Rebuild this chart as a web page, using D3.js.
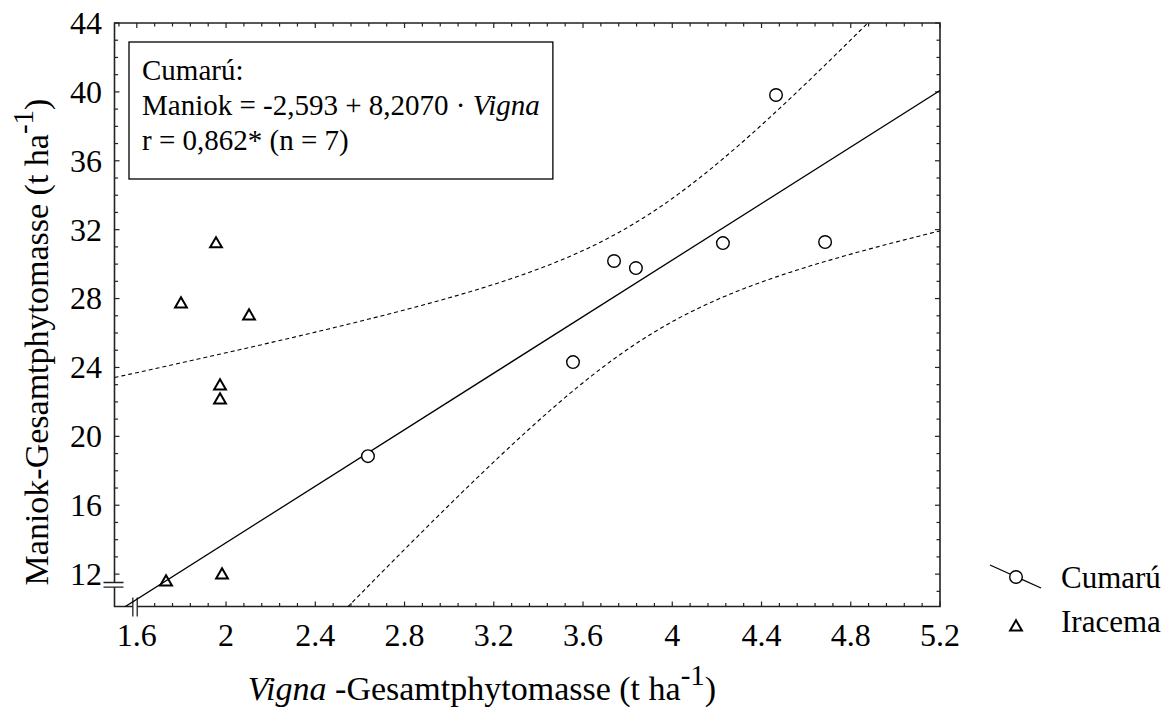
<!DOCTYPE html>
<html>
<head>
<meta charset="utf-8">
<script src="https://cdn.jsdelivr.net/npm/d3@7"></script>
<style>
  body { margin: 0; background: #fff; }
  svg { display: block; }
</style>
</head>
<body>
<svg id="chart" width="1171" height="717"></svg>
<script>
// Daten
const cumaruX  = [2.636, 3.555, 3.739, 3.837, 4.227, 4.465, 4.685];
const cumaruY  = [18.85, 24.31, 30.18, 29.77, 31.22, 39.82, 31.28];
const iracemaX = [1.955, 1.798, 2.103, 1.973, 1.973, 1.731, 1.982];
const iracemaY = [31.17, 27.68, 26.98, 22.92, 22.11, 11.54, 11.94];
const xTicks = [1.6, 2, 2.4, 2.8, 3.2, 3.6, 4, 4.4, 4.8, 5.2];
const yTicks = [12, 16, 20, 24, 28, 32, 36, 40, 44];
const fit = { intercept: -2.593, slope: 8.2070 };
const tCrit = 2.571; // t(0.975; df = 5)
const annotation = ['Cumarú:', 'Maniok = -2,593 + 8,2070 · ', 'r = 0,862* (n = 7)'];

const FONT = '"Liberation Serif", "Times New Roman", Times, serif';
const svg = d3.select('#chart').attr('font-family', FONT);
const W = 1171, H = 717;
const m = { left: 114.5, right: 940, top: 23, bottom: 606.5 };

const x = d3.scaleLinear().domain([1.5, 5.2]).range([m.left, m.right]);
const y = d3.scaleLinear().domain([10.12, 44]).range([m.bottom, m.top]);

svg.append('rect').attr('width', W).attr('height', H).attr('fill', '#fff');

svg.append('defs').append('clipPath').attr('id', 'plot-clip')
  .append('rect')
  .attr('x', m.left).attr('y', m.top)
  .attr('width', m.right - m.left).attr('height', m.bottom - m.top);

// Rahmen + Achsen mit Bruchstellen
const axisColor = '#222';
const xBrk = x(1.592), yBrk = y(11.38);
const frame = svg.append('g').attr('stroke', axisColor).attr('stroke-width', 1.6).attr('fill', 'none');
frame.append('path').attr('d', `M${m.left},${yBrk - 2.3} V${m.top} H${m.right} V${m.bottom} H${xBrk + 2.2}`);
frame.append('path').attr('d', `M${xBrk - 2.2},${m.bottom} H${m.left} V${yBrk + 2.3}`);
// Bruchzeichen
frame.append('path').attr('stroke-width', 1.3)
  .attr('d', `M${m.left - 11},${yBrk - 2.3} h20 M${m.left - 11},${yBrk + 2.3} h20` +
             `M${xBrk - 2.2},${m.bottom - 9} v19 M${xBrk + 2.2},${m.bottom - 9} v19`);

// Ticks (nach innen, alle vier Seiten)
const xMinor = d3.range(1.52, 5.2001, 0.08).map(v => +v.toFixed(2));
const yMinor = d3.range(11, 44.001, 1);
const ticks = svg.append('g').attr('stroke', axisColor).attr('stroke-width', 1.2);
const isMajX = v => xTicks.some(t => Math.abs(t - v) < 1e-6);
const isMajY = v => yTicks.some(t => Math.abs(t - v) < 1e-6);
xMinor.filter(v => x(v) > xBrk + 3).forEach(v => {
  const len = isMajX(v) ? 5 : 3.5;
  ticks.append('line').attr('x1', x(v)).attr('x2', x(v)).attr('y1', m.bottom).attr('y2', m.bottom - len);
});
xMinor.forEach(v => {
  const len = isMajX(v) ? 5 : 3.5;
  ticks.append('line').attr('x1', x(v)).attr('x2', x(v)).attr('y1', m.top).attr('y2', m.top + len);
});
yMinor.forEach(v => {
  const len = isMajY(v) ? 5 : 3.5;
  if (y(v) < yBrk - 4) ticks.append('line').attr('x1', m.left).attr('x2', m.left + len).attr('y1', y(v)).attr('y2', y(v));
  ticks.append('line').attr('x1', m.right).attr('x2', m.right - len).attr('y1', y(v)).attr('y2', y(v));
});

// Tick-Beschriftung
const labelSize = 32;
svg.append('g').selectAll('text').data(xTicks).join('text')
  .attr('x', d => x(d)).attr('y', 646)
  .attr('text-anchor', 'middle').attr('font-size', labelSize).attr('fill', '#000')
  .text(d => String(d));
svg.append('g').selectAll('text').data(yTicks).join('text')
  .attr('x', 102).attr('y', d => y(d)).attr('dy', '0.34em')
  .attr('text-anchor', 'end').attr('font-size', labelSize).attr('fill', '#000')
  .text(d => String(d));

// Regression + 95%-Konfidenzband
const predict = v => fit.intercept + fit.slope * v;
const n = cumaruX.length;
const meanX = d3.mean(cumaruX);
const sxx = d3.sum(cumaruX, v => (v - meanX) ** 2);
const sse = d3.sum(cumaruX, (v, i) => (cumaruY[i] - predict(v)) ** 2);
const s = Math.sqrt(sse / (n - 2));
const halfWidth = v => tCrit * s * Math.sqrt(1 / n + (v - meanX) ** 2 / sxx);
const xs = d3.range(1.5, 5.2001, 0.01);

const plot = svg.append('g').attr('clip-path', 'url(#plot-clip)');
const line = d3.line().x(d => x(d[0])).y(d => y(d[1]));
plot.append('path')
  .attr('d', line(x.domain().map(v => [v, predict(v)])))
  .attr('fill', 'none').attr('stroke', '#000').attr('stroke-width', 1.3);
[1, -1].forEach(sign => {
  plot.append('path')
    .attr('d', line(xs.map(v => [v, predict(v) + sign * halfWidth(v)])))
    .attr('fill', 'none').attr('stroke', '#000').attr('stroke-width', 1.1)
    .attr('stroke-dasharray', '4,3');
});

// Punkte
const tri = d3.symbol().type(d3.symbolTriangle).size(60);
svg.append('g').selectAll('circle').data(cumaruX).join('circle')
  .attr('cx', d => x(d)).attr('cy', (d, i) => y(cumaruY[i])).attr('r', 6.3)
  .attr('fill', '#fff').attr('stroke', '#000').attr('stroke-width', 1.4);
svg.append('g').selectAll('path').data(iracemaX).join('path')
  .attr('transform', (d, i) => `translate(${x(d)},${y(iracemaY[i])})`)
  .attr('d', tri).attr('fill', 'none').attr('stroke', '#000').attr('stroke-width', 2);

// Textkasten (Breite richtet sich nach der längsten Zeile)
const box = svg.append('rect').attr('x', 129).attr('y', 42).attr('height', 137)
  .attr('fill', '#fff').attr('stroke', '#000').attr('stroke-width', 1.3);
const ann = svg.append('g').attr('font-size', 29).attr('fill', '#000');
ann.append('text').attr('x', 142).attr('y', 80).text(annotation[0]);
const eq = ann.append('text').attr('x', 142).attr('y', 115).text(annotation[1]);
eq.append('tspan').attr('font-style', 'italic').text('Vigna');
ann.append('text').attr('x', 142).attr('y', 150).text(annotation[2]);
box.attr('width', 142 - 129 + eq.node().getComputedTextLength() + 13);

// Achsentitel
const xt = svg.append('text').attr('x', 482).attr('y', 700)
  .attr('text-anchor', 'middle').attr('font-size', 34).attr('fill', '#000');
xt.append('tspan').attr('font-style', 'italic').text('Vigna');
xt.append('tspan').text(' -Gesamtphytomasse (t ha');
xt.append('tspan').attr('dy', -15).attr('font-size', 29).text('-1');
xt.append('tspan').attr('dy', 15).text(')');

const yt = svg.append('text').attr('transform', 'translate(48,342) rotate(-90)')
  .attr('text-anchor', 'middle').attr('font-size', 34).attr('fill', '#000');
yt.append('tspan').text('Maniok-Gesamtphytomasse (t ha');
yt.append('tspan').attr('dy', -15).attr('font-size', 29).text('-1');
yt.append('tspan').attr('dy', 15).text(')');

// Legende
const leg = svg.append('g').attr('font-size', 31).attr('fill', '#000');
leg.append('line').attr('x1', 990).attr('y1', 565).attr('x2', 1041).attr('y2', 588)
  .attr('stroke', '#000').attr('stroke-width', 1.3);
leg.append('circle').attr('cx', 1016).attr('cy', 577).attr('r', 6.3)
  .attr('fill', '#fff').attr('stroke', '#000').attr('stroke-width', 1.4);
leg.append('text').attr('x', 1061).attr('y', 588).text('Cumarú');
leg.append('path').attr('transform', 'translate(1016,627)').attr('d', tri)
  .attr('fill', 'none').attr('stroke', '#000').attr('stroke-width', 2);
leg.append('text').attr('x', 1061).attr('y', 632).text('Iracema');
</script>
</body>
</html>
